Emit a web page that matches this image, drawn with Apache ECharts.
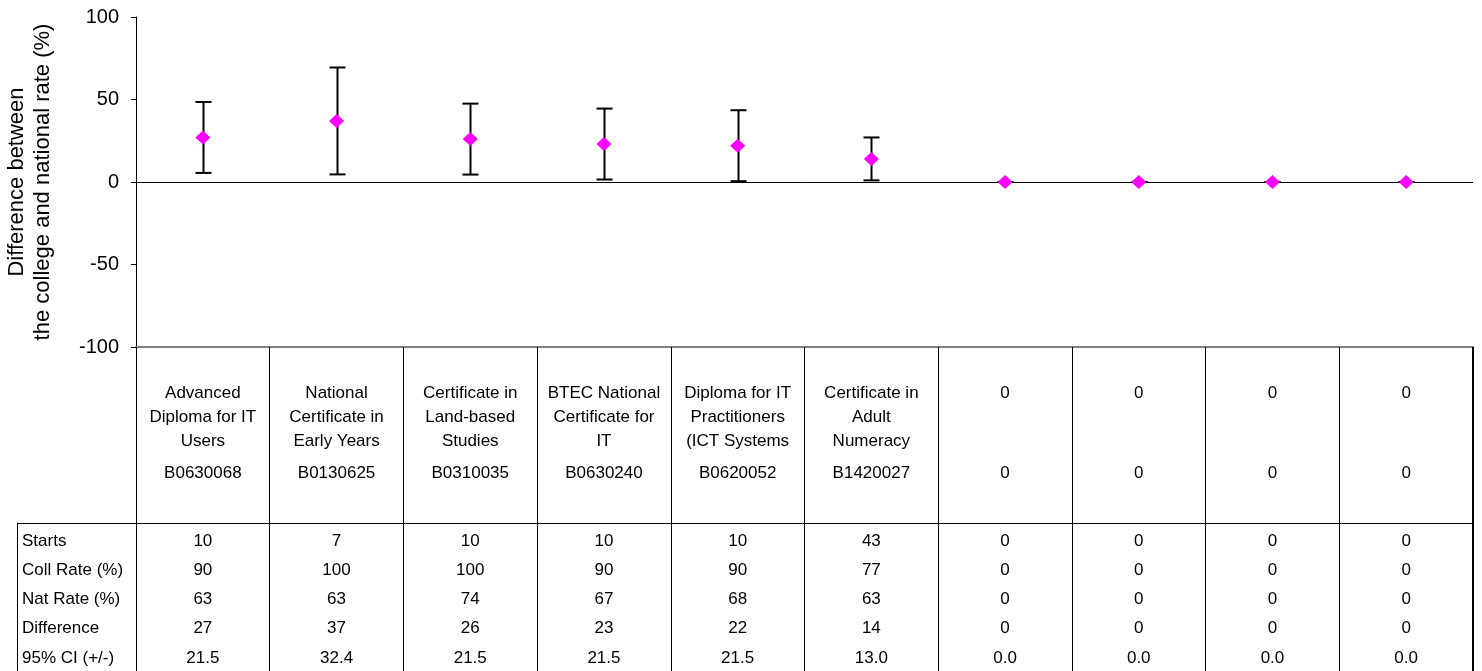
<!DOCTYPE html>
<html>
<head>
<meta charset="utf-8">
<title>College vs national rate</title>
<script src="https://cdn.jsdelivr.net/npm/echarts@6/dist/echarts.min.js"></script>
<style>
  html, body { margin: 0; padding: 0; background: #fff; }
  #chart { width: 1482px; height: 671px; }
</style>
</head>
<body>
<div id="chart"></div>
<script>
// Qualification titles (pre-wrapped) and their codes
const courseNames = [
  'Advanced\nDiploma for IT\nUsers',
  'National\nCertificate in\nEarly Years',
  'Certificate in\nLand-based\nStudies',
  'BTEC National\nCertificate for\nIT',
  'Diploma for IT\nPractitioners\n(ICT Systems',
  'Certificate in\nAdult\nNumeracy',
  '0', '0', '0', '0'
];
const courseCodes = ['B0630068', 'B0130625', 'B0310035', 'B0630240', 'B0620052', 'B1420027', '0', '0', '0', '0'];

// Table rows
const rowNames = ['Starts', 'Coll Rate (%)', 'Nat Rate (%)', 'Difference', '95% CI (+/-)'];
const starts     = [10, 7, 10, 10, 10, 43, 0, 0, 0, 0];
const collRate   = [90, 100, 100, 90, 90, 77, 0, 0, 0, 0];
const natRate    = [63, 63, 74, 67, 68, 63, 0, 0, 0, 0];
const difference = [27, 37, 26, 23, 22, 14, 0, 0, 0, 0];
const ci95       = [21.5, 32.4, 21.5, 21.5, 21.5, 13.0, 0.0, 0.0, 0.0, 0.0];

const yTicks = { min: -100, max: 100, interval: 50 };

const FONT = '"Liberation Sans", Arial, sans-serif';
const idx = courseCodes.map((_, i) => i);

// category header: up to three title lines, then the code
function headerLabel(value, i) {
  const lines = courseNames[i].split('\n');
  while (lines.length < 3) lines.push('\u00a0');
  return lines.map(l => '{n|' + l + '}').join('\n') + '\n{c|' + courseCodes[i] + '}';
}

// cells of the lower table
const tableRows = [
  starts.map(String),
  collRate.map(String),
  natRate.map(String),
  difference.map(String),
  ci95.map(v => v.toFixed(1))
];
const cellData = [];
tableRows.forEach((row, r) => row.forEach((txt, c) => cellData.push([c, r, txt])));

const chart = echarts.init(document.getElementById('chart'), null, { renderer: 'canvas' });

chart.setOption({
  backgroundColor: '#ffffff',
  animation: false,
  textStyle: { fontFamily: FONT, color: '#000' },
  grid: [
    { left: 136, right: 9, top: 17, height: 330, outerBoundsMode: 'none', containLabel: false },
    { left: 136, right: 9, top: 526.5, height: 146, outerBoundsMode: 'none', containLabel: false }
  ],
  xAxis: [
    {
      type: 'category', gridIndex: 0, data: idx, boundaryGap: true,
      position: 'bottom',
      axisLine: { onZero: false, lineStyle: { color: '#808080', width: 2 } },
      // ticks double as the column rules of the header table
      axisTick: { show: true, interval: 0, length: 180, lineStyle: { color: '#000', width: 1 } },
      axisLabel: {
        interval: 0, margin: 34, formatter: headerLabel, color: '#000',
        rich: {
          n: { fontFamily: FONT, fontSize: 17, lineHeight: 24, color: '#000', align: 'center' },
          c: { fontFamily: FONT, fontSize: 17, lineHeight: 40, color: '#000', align: 'center' }
        }
      },
      splitLine: { show: false }
    },
    {
      type: 'category', gridIndex: 1, data: idx, boundaryGap: true,
      axisLine: { show: false }, axisTick: { show: false }, axisLabel: { show: false },
      splitLine: { show: true, interval: 0, lineStyle: { color: '#000', width: 1 } }
    }
  ],
  yAxis: [
    {
      type: 'value', gridIndex: 0, min: yTicks.min, max: yTicks.max, interval: yTicks.interval,
      name: 'Difference between\nthe college and national rate (%)',
      nameLocation: 'middle', nameRotate: 90, nameGap: 80,
      nameTextStyle: { fontFamily: FONT, fontSize: 22, lineHeight: 26, color: '#000', align: 'center' },
      axisLine: { show: true, lineStyle: { color: '#000', width: 1 } },
      axisTick: { show: true, length: 5, lineStyle: { color: '#000' } },
      axisLabel: { fontFamily: FONT, fontSize: 20, color: '#000', margin: 17 },
      splitLine: { show: false }
    },
    {
      type: 'category', gridIndex: 1, data: rowNames, inverse: true,
      axisLine: { show: false }, axisTick: { show: false },
      axisLabel: { align: 'left', margin: 114, fontFamily: FONT, fontSize: 17, color: '#000' },
      splitLine: { show: false }
    }
  ],
  graphic: [
    { type: 'line', shape: { x1: 17, y1: 523.5, x2: 1473, y2: 523.5 }, style: { stroke: '#000', lineWidth: 1 }, z: 10 },
    { type: 'line', shape: { x1: 17.5, y1: 523, x2: 17.5, y2: 671 }, style: { stroke: '#000', lineWidth: 1 }, z: 10 },
    { type: 'line', shape: { x1: 1472.5, y1: 347, x2: 1472.5, y2: 671 }, style: { stroke: '#000', lineWidth: 1 }, z: 10 }
  ],
  series: [
    {
      // 95% confidence interval whiskers
      type: 'custom', xAxisIndex: 0, yAxisIndex: 0, z: 3,
      data: idx.map(i => [i, difference[i] - ci95[i], difference[i] + ci95[i]]),
      renderItem: function (params, api) {
        const lo = api.coord([api.value(0), api.value(1)]);
        const hi = api.coord([api.value(0), api.value(2)]);
        const x = Math.round(lo[0]) + 0.5;
        const half = 8;
        const st = { stroke: '#000', lineWidth: 2 };
        return {
          type: 'group',
          children: [
            { type: 'line', shape: { x1: x, y1: hi[1], x2: x, y2: lo[1] }, style: st },
            { type: 'line', shape: { x1: x - half, y1: hi[1], x2: x + half, y2: hi[1] }, style: st },
            { type: 'line', shape: { x1: x - half, y1: lo[1], x2: x + half, y2: lo[1] }, style: st }
          ]
        };
      },
      markLine: {
        silent: true, symbol: 'none', label: { show: false },
        lineStyle: { color: '#000', width: 1, type: 'solid' },
        data: [{ yAxis: 0 }]
      }
    },
    {
      type: 'scatter', xAxisIndex: 0, yAxisIndex: 0, z: 5,
      symbol: 'diamond', symbolSize: [15, 14],
      itemStyle: { color: '#ff00ff', opacity: 1 },
      data: idx.map(i => [i, difference[i]])
    },
    {
      // lower table values
      type: 'scatter', xAxisIndex: 1, yAxisIndex: 1,
      symbolSize: 0,
      itemStyle: { color: '#000', opacity: 1 },
      data: cellData,
      label: {
        show: true, position: 'inside', fontFamily: FONT, fontSize: 17, color: '#000',
        textBorderWidth: 0,
        formatter: p => p.value[2]
      }
    }
  ]
});
</script>
</body>
</html>
